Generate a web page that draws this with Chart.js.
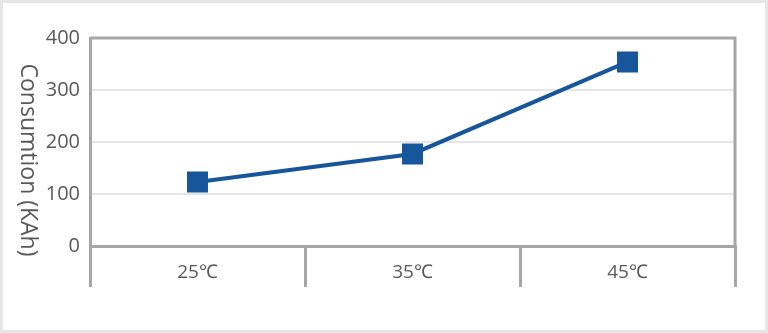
<!DOCTYPE html>
<html>
<head>
<meta charset="utf-8">
<script src="https://cdn.jsdelivr.net/npm/chart.js@4"></script>
<style>
  html, body { margin: 0; padding: 0; background: #fff; }
  #wrap { width: 762px; height: 327px; border: 3px solid #e6e6e6; position: relative; }
</style>
</head>
<body>
<div id="wrap"><canvas id="myChart"></canvas></div>
<script>
var temps = ["25℃", "35℃", "45℃"];
var consumption = [123, 177, 354];
var yTicks = [0, 100, 200, 300, 400];
var yTitle = "Consumtion (KAh)";

var gray = "#a6a6a6";
var blue = "#17569b";
var textColor = "#595959";
var fontFamily = "'Open Sans'";

// box lines on top and right of the plot area, category labels
// sitting between the divider ticks, and the y title (set a bit low like the original)
var frame = {
  id: "frame",
  afterDatasetsDraw: function (chart) {
    var a = chart.chartArea;
    var c = chart.ctx;
    c.save();
    c.strokeStyle = gray;
    c.lineWidth = 3;
    c.beginPath();
    c.moveTo(a.left, a.top);
    c.lineTo(a.right, a.top);
    c.lineTo(a.right, a.bottom);
    c.stroke();

    var xs = chart.scales.x;
    c.fillStyle = textColor;
    c.font = "19px " + fontFamily;
    c.textAlign = "center";
    c.textBaseline = "middle";
    chart.data.labels.forEach(function (lab, i) {
      c.fillText(lab, xs.getPixelForTick(i), a.bottom + 27);
    });

    c.font = "23px " + fontFamily;
    c.translate(chart.scales.y.left + 13, (a.top + a.bottom) / 2 + 18);
    c.rotate(Math.PI / 2);
    c.fillText(yTitle, 0, 0);
    c.restore();
  },
};

var ctx = document.getElementById("myChart").getContext("2d");
var myChart = new Chart(ctx, {
  type: "line",
  data: {
    labels: temps,
    datasets: [
      {
        label: "Consumtion",
        data: consumption,
        borderColor: blue,
        backgroundColor: blue,
        borderWidth: 4,
        pointStyle: "rect",
        pointRadius: 12,
        pointHoverRadius: 12,
        tension: 0,
      },
    ],
  },
  options: {
    responsive: true,
    maintainAspectRatio: false,
    animation: false,
    layout: { padding: { left: 12, right: 30, top: 35, bottom: 43 } },
    plugins: {
      legend: { display: false },
      tooltip: { enabled: false },
    },
    scales: {
      x: {
        offset: true,
        grid: {
          offset: true,
          drawOnChartArea: false,
          color: gray,
          lineWidth: 3,
          tickLength: 41,
        },
        border: { color: gray, width: 3 },
        ticks: { display: false },
      },
      y: {
        min: 0,
        max: 400,
        afterBuildTicks: function (axis) {
          axis.ticks = yTicks.map(function (v) { return { value: v }; });
        },
        afterFit: function (axis) {
          axis.width = 75;
        },
        grid: { color: "#e6e6e6", lineWidth: 2, drawTicks: false },
        border: { color: gray, width: 3 },
        ticks: {
          color: textColor,
          padding: 10,
          font: { family: fontFamily, size: 20 },
        },
      },
    },
  },
  plugins: [frame],
});
</script>
</body>
</html>
